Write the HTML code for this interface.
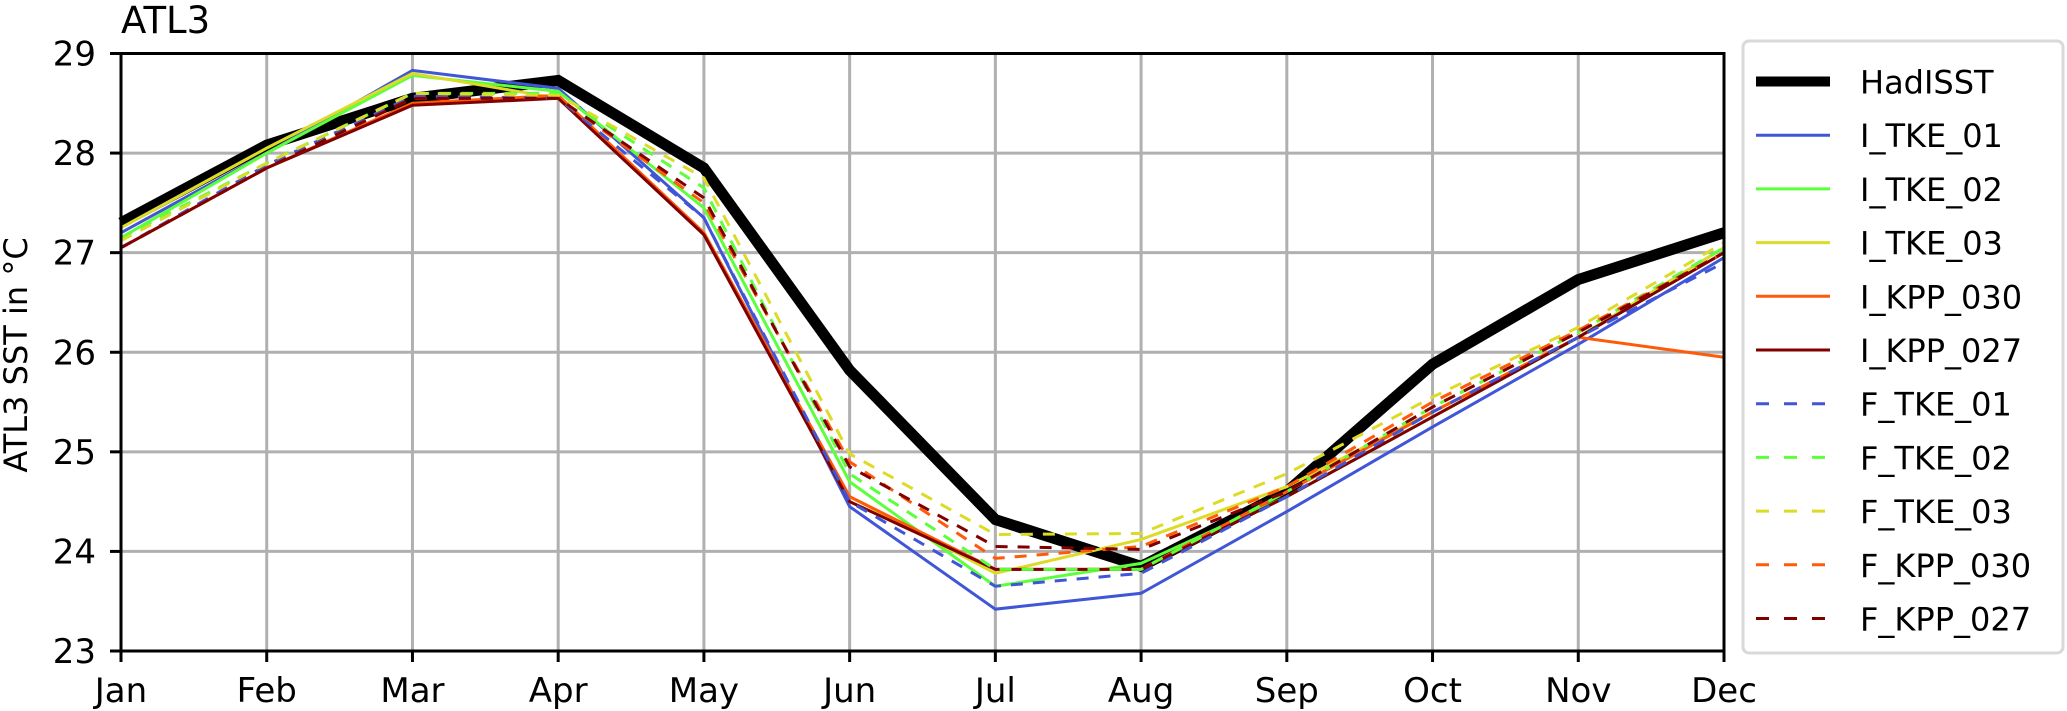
<!DOCTYPE html>
<html><head><meta charset="utf-8"><style>
html,body{margin:0;padding:0;background:#fff}
svg{display:block;font-family:"DejaVu Sans","Liberation Sans",sans-serif}
</style></head><body>
<svg id="chart" width="2067" height="711" viewBox="0 0 2067 711" xmlns="http://www.w3.org/2000/svg">
<rect width="2067" height="711" fill="#fff"/>
<text x="121" y="33" font-size="37">ATL3</text>
<text transform="translate(27,355) rotate(-90)" text-anchor="middle" font-size="32">ATL3 SST in °C</text>
<g id="grid"></g>
<g id="series"></g>
<g id="axes"></g>
<g id="legend"></g>
</svg>
<script>
const months = ["Jan","Feb","Mar","Apr","May","Jun","Jul","Aug","Sep","Oct","Nov","Dec"];
const yTicks = [23,24,25,26,27,28,29];
const seriesNames = ["HadISST","I_TKE_01","I_TKE_02","I_TKE_03","I_KPP_030","I_KPP_027","F_TKE_01","F_TKE_02","F_TKE_03","F_KPP_030","F_KPP_027"];
const hadisst   = [27.3,28.08,28.55,28.73,27.85,25.82,24.32,23.85,24.6,25.88,26.73,27.2];
const iTke01    = [27.2,28.0,28.83,28.65,27.35,24.45,23.42,23.58,24.4,25.25,26.08,26.95];
const iTke02    = [27.15,28.0,28.78,28.62,27.45,24.7,23.65,23.88,24.55,25.35,26.15,27.05];
const iTke03    = [27.25,28.05,28.8,28.55,27.2,24.55,23.78,24.12,24.65,25.4,26.15,27.05];
const iKpp030   = [27.05,27.85,28.5,28.58,27.2,24.55,23.82,23.82,24.6,25.4,26.15,25.95];
const iKpp027   = [27.05,27.85,28.48,28.55,27.18,24.5,23.82,23.82,24.55,25.35,26.15,27.0];
const fTke01    = [27.05,27.88,28.57,28.55,27.35,24.5,23.65,23.78,24.55,25.4,26.15,26.9];
const fTke02    = [27.15,27.9,28.6,28.6,27.65,24.78,23.82,23.82,24.6,25.45,26.2,27.05];
const fTke03    = [27.12,27.9,28.6,28.58,27.75,24.98,24.17,24.18,24.78,25.55,26.25,27.1];
const fKpp030   = [27.05,27.85,28.55,28.55,27.5,24.9,23.93,24.05,24.65,25.5,26.22,27.0];
const fKpp027   = [27.05,27.85,28.55,28.55,27.55,24.85,24.05,24.02,24.6,25.45,26.2,27.0];

const allValues = [hadisst,iTke01,iTke02,iTke03,iKpp030,iKpp027,fTke01,fTke02,fTke03,fKpp030,fKpp027];
const colors = ["#000000","#4056d6","#5cff3c","#dcdc28","#ff5a0a","#800000","#4056d6","#5cff3c","#dcdc28","#ff5a0a","#800000"];
const L=121,R=1724,T=53.5,B=651, Y0=23, Y1=29;
const x = i => L + i*(R-L)/(months.length-1);
const y = v => B - (v-Y0)/(Y1-Y0)*(B-T);
const NS="http://www.w3.org/2000/svg";
function mk(tag, attrs, parent){const e=document.createElementNS(NS,tag);for(const k in attrs)e.setAttribute(k,attrs[k]);parent.appendChild(e);return e;}
const grid=document.getElementById('grid'), ser=document.getElementById('series'), axes=document.getElementById('axes'), leg=document.getElementById('legend');

months.forEach((m,i)=>{
  const g=mk('line',{x1:x(i),x2:x(i),y1:T,y2:B,stroke:'#b0b0b0','stroke-width':3},grid);
  
  
  const t=mk('line',{x1:x(i),x2:x(i),y1:B,y2:B+11,stroke:'#000','stroke-width':3},axes);
  
  
  const lb=mk('text',{x:x(i),y:702,'text-anchor':'middle','font-size':34},axes);
  lb.textContent=m;
  
  
});
yTicks.forEach(v=>{
  const g=mk('line',{x1:L,x2:R,y1:y(v),y2:y(v),stroke:'#b0b0b0','stroke-width':3},grid);
  
  
  const t=mk('line',{x1:L-11,x2:L,y1:y(v),y2:y(v),stroke:'#000','stroke-width':3},axes);
  
  
  const lb=mk('text',{x:96,y:y(v)+12,'text-anchor':'end','font-size':34},axes);
  lb.textContent=v;
  
  
});
const frame=mk('rect',{x:L,y:T,width:R-L,height:B-T,fill:'none',stroke:'#000','stroke-width':3},axes);



allValues.forEach((vals,k)=>{
  const pts=vals.map((v,i)=>x(i)+','+y(v)).join(' ');
  const a={points:pts,fill:'none',stroke:colors[k],'stroke-width':k===0?11:3,'stroke-linejoin':'miter'};
  if(k>=6) a['stroke-dasharray']='12,10';
  const p=mk('polyline',a,ser);
  
  
});

const box=mk('rect',{x:1743,y:41,width:320,height:612,rx:6,fill:'#fff',stroke:'#d9d9d9','stroke-width':3},leg);


seriesNames.forEach((n,k)=>{
  const yy=81.5+k*53.7;
  const a={x1:1756,x2:1830,y1:yy,y2:yy,stroke:colors[k],'stroke-width':k===0?10:3};
  if(k>=6) a['stroke-dasharray']='13,15';
  const ln=mk('line',a,leg);
  
  
  const t=mk('text',{x:1860,y:yy+12,'font-size':32},leg);
  t.textContent=n;
  
  
});
</script>
</body></html>
